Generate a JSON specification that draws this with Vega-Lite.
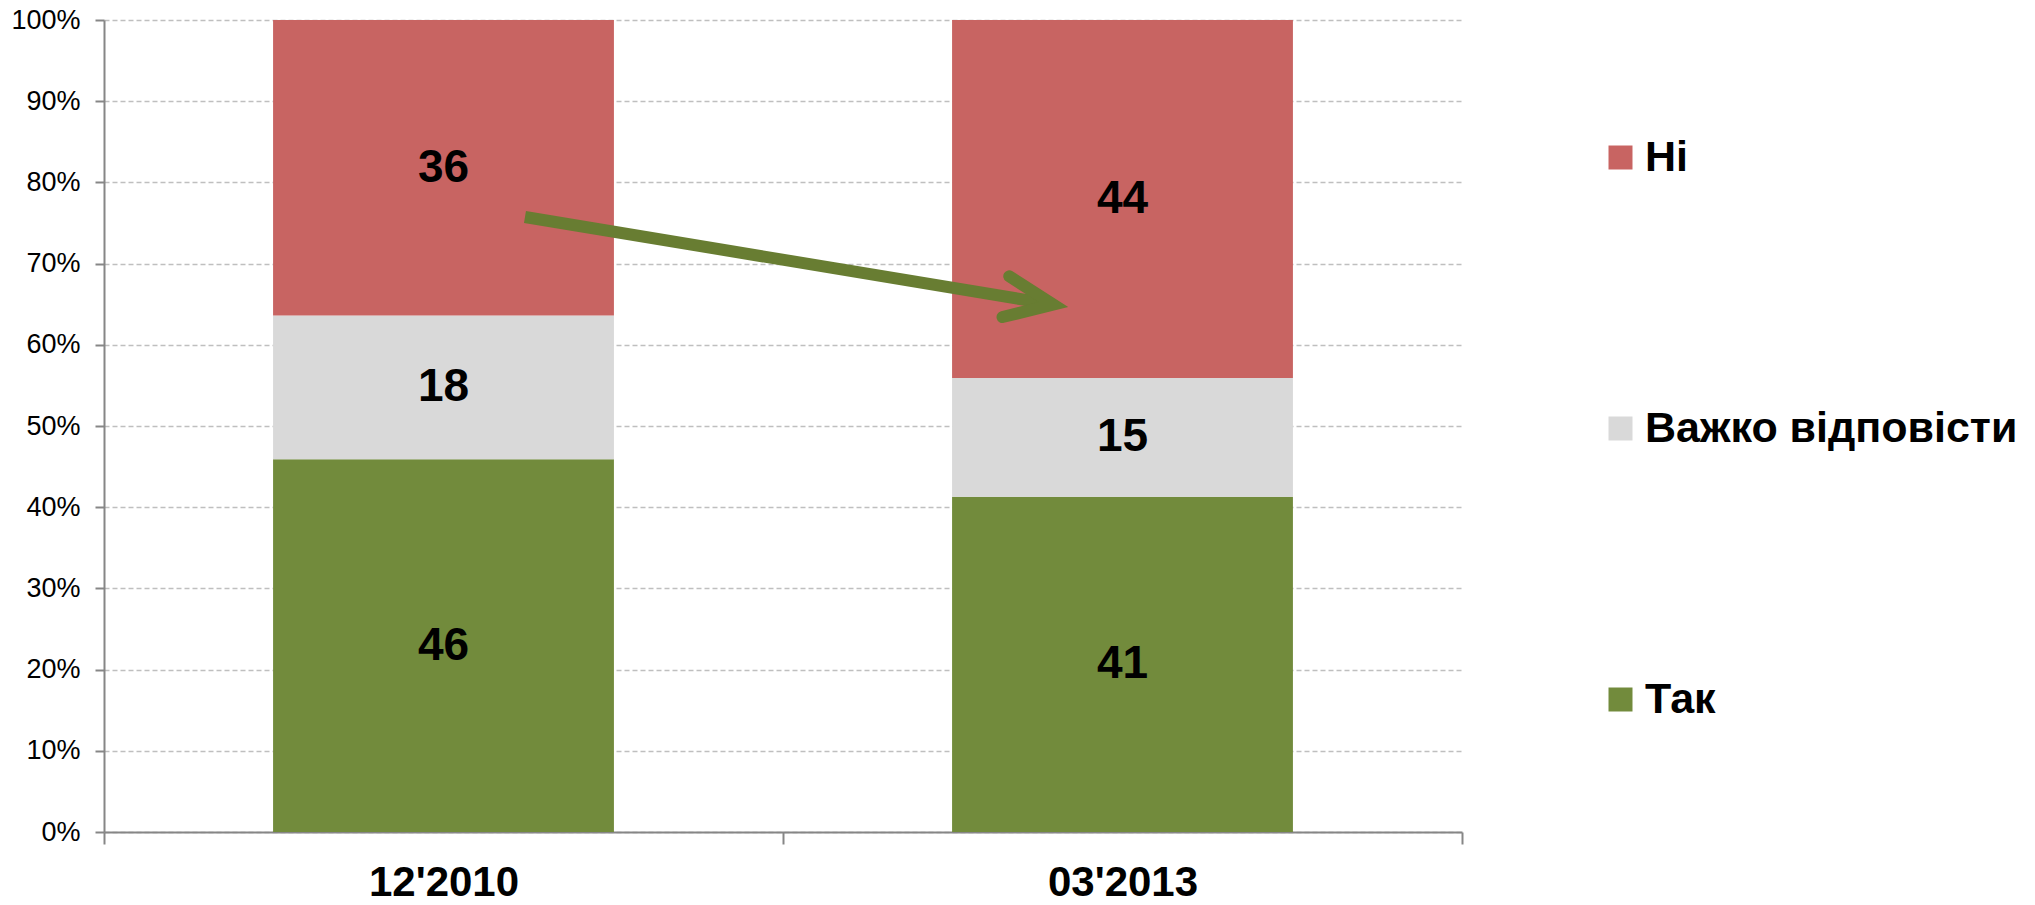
{
  "$schema": "https://vega.github.io/schema/vega-lite/v6.json",
  "width": 1358,
  "height": 812,
  "autosize": {"type": "none"},
  "padding": {"left": 104, "top": 20, "right": 573, "bottom": 73},
  "background": "white",
  "config": {
    "view": {"stroke": null},
    "font": "Liberation Sans"
  },
  "layer": [
    {
      "data": {
        "values": [
          {"date": "12'2010", "resp": "Так", "rank": 1, "val": 45.9},
          {"date": "12'2010", "resp": "Важко відповісти", "rank": 2, "val": 17.7},
          {"date": "12'2010", "resp": "Ні", "rank": 3, "val": 36.4},
          {"date": "03'2013", "resp": "Так", "rank": 1, "val": 41.3},
          {"date": "03'2013", "resp": "Важко відповісти", "rank": 2, "val": 14.6},
          {"date": "03'2013", "resp": "Ні", "rank": 3, "val": 44.1}
        ]
      },
      "encoding": {
        "x": {
          "field": "date",
          "type": "nominal",
          "sort": ["12'2010", "03'2013"],
          "scale": {"paddingInner": 0, "paddingOuter": 0},
          "axis": {
            "title": null,
            "labelAngle": 0,
            "labelFont": "Liberation Sans",
            "labelFontWeight": "bold",
            "labelFontSize": 42,
            "labelColor": "#000000",
            "labelPadding": 18,
            "domainColor": "#868686",
            "domainWidth": 2,
            "tickColor": "#868686",
            "tickWidth": 2,
            "tickSize": 12,
            "tickBand": "extent",
            "grid": false
          }
        },
        "y": {
          "field": "val",
          "type": "quantitative",
          "stack": "zero",
          "scale": {"domain": [0, 100], "nice": false},
          "axis": {
            "title": null,
            "values": [0, 10, 20, 30, 40, 50, 60, 70, 80, 90, 100],
            "labelExpr": "datum.value + '%'",
            "labelFont": "Liberation Sans",
            "labelFontSize": 27,
            "labelColor": "#000000",
            "labelPadding": 15,
            "domainColor": "#868686",
            "domainWidth": 2,
            "tickColor": "#868686",
            "tickWidth": 2,
            "tickSize": 9,
            "grid": true,
            "gridColor": "#BFBFBF",
            "gridDash": [5, 3],
            "gridWidth": 1.3
          }
        },
        "order": {"field": "rank", "type": "quantitative"}
      },
      "layer": [
        {
          "mark": {"type": "bar", "width": {"band": 0.502}},
          "encoding": {
            "color": {
              "field": "resp",
              "type": "nominal",
              "scale": {
                "domain": ["Ні", "Важко відповісти", "Так"],
                "range": ["#C86462", "#D9D9D9", "#728B3C"]
              },
              "legend": {
                "title": null,
                "orient": "none",
                "legendX": 1495,
                "legendY": 116,
                "symbolType": "square",
                "symbolSize": 576,
                "symbolStrokeWidth": 0,
                "labelFont": "Liberation Sans",
                "labelFontWeight": "bold",
                "labelFontSize": 43,
                "labelColor": "#000000",
                "labelOffset": 3,
                "rowPadding": 227,
                "labelLimit": 600
              }
            }
          }
        },
        {
          "mark": {
            "type": "text",
            "font": "Liberation Sans",
            "fontWeight": "bold",
            "fontSize": 46,
            "color": "#000000",
            "baseline": "middle",
            "align": "center"
          },
          "encoding": {
            "y": {
              "field": "val",
              "type": "quantitative",
              "stack": "zero",
              "bandPosition": 0.5
            },
            "text": {"field": "val", "type": "quantitative", "format": ".0f"}
          }
        }
      ]
    },
    {
      "layer": [
        {
          "data": {
            "values": [
              {"ax": 0.62, "ay": 75.74},
              {"ax": 1.398, "ay": 64.96}
            ]
          },
          "mark": {"type": "line", "color": "#687D32", "strokeWidth": 12, "strokeCap": "butt"},
          "encoding": {
            "x": {"field": "ax", "type": "quantitative", "scale": {"domain": [0, 2], "nice": false}, "axis": null},
            "y": {"field": "ay", "type": "quantitative"}
          }
        },
        {
          "data": {
            "values": [
              {"ax": 1.398, "ay": 64.96}
            ]
          },
          "mark": {
            "type": "point",
            "shape": "M -1 -0.43 L 0 0 L -1 0.43",
            "size": 9216,
            "angle": 9.4,
            "filled": false,
            "stroke": "#687D32",
            "strokeWidth": 12,
            "strokeCap": "round",
            "strokeJoin": "miter",
            "opacity": 1
          },
          "encoding": {
            "x": {"field": "ax", "type": "quantitative", "scale": {"domain": [0, 2], "nice": false}, "axis": null},
            "y": {"field": "ay", "type": "quantitative"}
          }
        }
      ]
    }
  ],
  "resolve": {"scale": {"x": "independent"}}
}
